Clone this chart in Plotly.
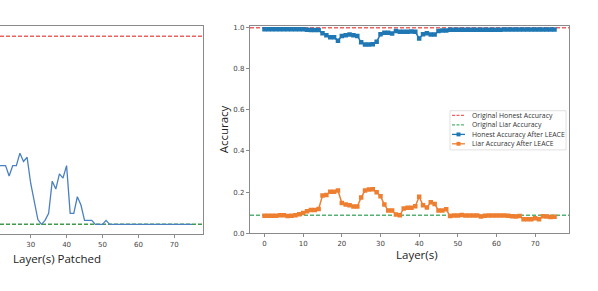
import plotly.graph_objects as go

W, H = 598, 291

# ---- data: left panel (patching), layers 21..75 (rest is cropped off) ----
patch_layers = list(range(21, 76))
patch_values = [0.33, 0.33, 0.33, 0.28, 0.33, 0.33, 0.39, 0.35, 0.37, 0.245,
                0.16, 0.07, 0.047, 0.066, 0.10, 0.255, 0.217, 0.29, 0.27, 0.33,
                0.10, 0.10, 0.18, 0.14, 0.066, 0.066, 0.066, 0.047, 0.047, 0.047,
                0.066] + [0.047] * 24
patch_honest_ref = 0.953
patch_liar_ref = 0.047

# ---- data: right panel (LEACE) ----
layers = list(range(0, 76))
honest_after = [0.992] * 11 + [0.99, 0.989, 0.989, 0.989,
                0.973, 0.963, 0.953, 0.953, 0.937, 0.96, 0.963, 0.967, 0.963, 0.96,
                0.929, 0.918, 0.918, 0.92, 0.932, 0.968, 0.976, 0.976, 0.972, 0.984,
                0.98, 0.98, 0.98, 0.981, 0.98, 0.948, 0.968, 0.973, 0.967, 0.967,
                0.984, 0.987, 0.987] + [0.99] * 14 + [0.991] * 14
liar_after = [0.084, 0.084, 0.084, 0.084, 0.087, 0.087, 0.083, 0.085, 0.087, 0.092,
              0.098, 0.107, 0.112, 0.112, 0.118, 0.183, 0.186, 0.202, 0.202, 0.208,
              0.147, 0.139, 0.136, 0.13, 0.13, 0.174, 0.207, 0.212, 0.214, 0.199,
              0.18, 0.139, 0.11, 0.11, 0.091, 0.087, 0.12, 0.123, 0.123, 0.131,
              0.177, 0.136, 0.125, 0.15, 0.142, 0.11, 0.11, 0.116, 0.083, 0.086,
              0.086, 0.088, 0.086, 0.086, 0.086, 0.086, 0.081, 0.084, 0.086, 0.086,
              0.086, 0.086, 0.086, 0.085, 0.082, 0.081, 0.083, 0.068, 0.068, 0.068,
              0.072, 0.068, 0.082, 0.081, 0.079, 0.08]
orig_honest = 1.0
orig_liar = 0.087

legend_labels = ["Original Honest Accuracy", "Original Liar Accuracy",
                 "Honest Accuracy After LEACE", "Liar Accuracy After LEACE"]

BLUE = "#1f77b4"
ORANGE = "#ee7f30"
RED = "#ef6262"
GREEN = "#55b274"
SPINE = "#8a8a8a"
FONT = "Open Sans"


def px(x):
    return x / W


def py(y):
    return 1 - y / H


fig = go.Figure()

# left panel
fig.add_trace(go.Scatter(x=patch_layers, y=patch_values, mode="lines",
                         line=dict(color="#4a80c0", width=1.3),
                         xaxis="x", yaxis="y", showlegend=False))

# right panel
fig.add_trace(go.Scatter(x=layers, y=honest_after, mode="lines+markers",
                         line=dict(color=BLUE, width=1.5),
                         marker=dict(symbol="square", size=4.5, color=BLUE),
                         xaxis="x2", yaxis="y2", showlegend=False))
fig.add_trace(go.Scatter(x=layers, y=liar_after, mode="lines+markers",
                         line=dict(color=ORANGE, width=1.5),
                         marker=dict(symbol="square", size=4.5, color=ORANGE),
                         xaxis="x2", yaxis="y2", showlegend=False))

shapes = []
# reference lines
for xr, yr, val, col in [("x domain", "y", patch_honest_ref, RED),
                         ("x domain", "y", patch_liar_ref, "#3f9a4a"),
                         ("x2 domain", "y2", orig_honest, RED),
                         ("x2 domain", "y2", orig_liar, GREEN)]:
    shapes.append(dict(type="line", xref=xr, yref=yr, x0=0, x1=1, y0=val, y1=val,
                       line=dict(color=col, width=1.5, dash="4px,2px"), layer="below"))

# manual legend
lx0, lx1, ly0, ly1 = 450, 566, 111, 151
shapes.append(dict(type="rect", xref="paper", yref="paper",
                   x0=px(lx0), x1=px(lx1), y0=py(ly0), y1=py(ly1),
                   line=dict(color="#d8d8d8", width=0.8), fillcolor="white"))
annotations = []
rows = [115.7, 125.5, 135.2, 144.8]
styles = [(RED, True, False), (GREEN, True, False), (BLUE, False, True), (ORANGE, False, True)]
for yy, lab, (col, dashed, mark) in zip(rows, legend_labels, styles):
    shapes.append(dict(type="line", xref="paper", yref="paper",
                       x0=px(452), x1=px(465), y0=py(yy), y1=py(yy),
                       line=dict(color=col, width=1.3, dash="3px,1.5px" if dashed else "solid")))
    if mark:
        shapes.append(dict(type="rect", xref="paper", yref="paper",
                           x0=px(456.5), x1=px(460.5), y0=py(yy - 2), y1=py(yy + 2),
                           line=dict(width=0), fillcolor=col))
    annotations.append(dict(text=lab, xref="paper", yref="paper", x=px(469.5), y=py(yy),
                            xanchor="left", yanchor="middle", showarrow=False,
                            font=dict(family=FONT, size=6.9, color="#333333")))

# axis titles
annotations.append(dict(text="Layer(s) Patched", xref="paper", yref="paper",
                        x=px(57), y=py(262), xanchor="center", yanchor="middle",
                        showarrow=False, font=dict(family=FONT, size=11.5, color="#222")))
annotations.append(dict(text="Layer(s)", xref="paper", yref="paper",
                        x=px(417), y=py(258), xanchor="center", yanchor="middle",
                        showarrow=False, font=dict(family=FONT, size=11.5, color="#222")))
annotations.append(dict(text="Accuracy", xref="paper", yref="paper",
                        x=px(223), y=py(130), xanchor="center", yanchor="middle",
                        textangle=-90, showarrow=False,
                        font=dict(family=FONT, size=11.5, color="#222")))

tickfont = dict(family="DejaVu Sans", size=7, color="#444444")

fig.update_layout(
    width=W, height=H, margin=dict(l=0, r=0, t=0, b=0),
    paper_bgcolor="white", plot_bgcolor="white",
    shapes=shapes, annotations=annotations, showlegend=False,
    xaxis=dict(domain=[0, px(203)], range=[21.45, 78.0],
               tickvals=[30, 40, 50, 60, 70], ticks="outside", ticklen=3,
               tickcolor=SPINE, tickfont=tickfont, showgrid=False, zeroline=False,
               showline=True, linecolor=SPINE, linewidth=1.2, mirror=True),
    yaxis=dict(domain=[py(237), py(25)], range=[0, 1], side="right",
               showticklabels=False, ticks="", showgrid=False, zeroline=False,
               showline=True, linecolor=SPINE, linewidth=1.2),
    xaxis2=dict(domain=[px(250), px(569)], range=[-3.75, 78.75], anchor="y2",
                tickvals=[0, 10, 20, 30, 40, 50, 60, 70], ticks="outside", ticklen=3,
                tickcolor=SPINE, tickfont=tickfont, showgrid=False, zeroline=False,
                showline=True, linecolor=SPINE, linewidth=1.2, mirror=True),
    yaxis2=dict(domain=[py(236), py(25)], range=[0, 1.006], anchor="x2",
                tickvals=[0, 0.2, 0.4, 0.6, 0.8, 1.0], tickformat=".1f",
                ticks="outside", ticklen=3, tickcolor=SPINE, tickfont=tickfont,
                showgrid=False, zeroline=False,
                showline=True, linecolor=SPINE, linewidth=1.2, mirror=True),
)

fig.write_html("out.html", config={"displayModeBar": False},
               post_script="document.body.style.margin='0';document.body.style.overflow='hidden';")
